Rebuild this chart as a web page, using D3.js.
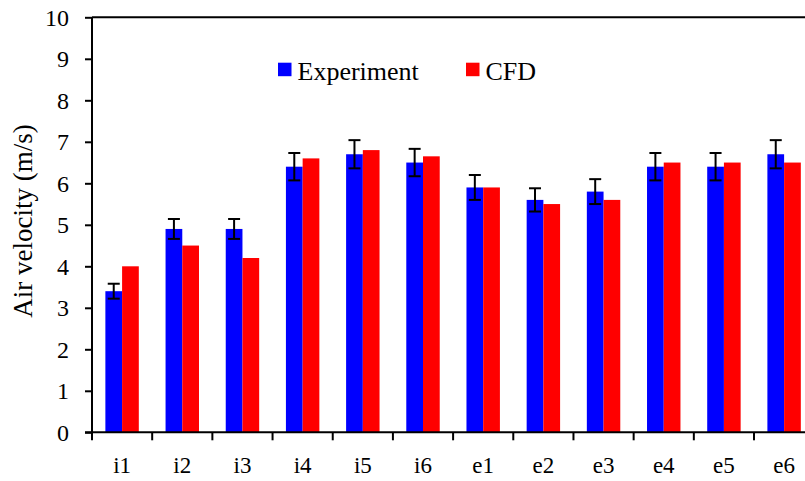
<!DOCTYPE html>
<html>
<head>
<meta charset="utf-8">
<script src="https://cdn.jsdelivr.net/npm/d3@7"></script>
<style>
  html, body { margin: 0; padding: 0; background: #fff; }
  svg { display: block; }
  text { font-family: "Liberation Serif", "Times New Roman", serif; fill: #000; }
</style>
</head>
<body>
<svg id="chart" width="805" height="481"></svg>
<script>
const categories = ["i1","i2","i3","i4","i5","i6","e1","e2","e3","e4","e5","e6"];
const seriesNames = ["Experiment","CFD"];
const experiment = [3.4, 4.9, 4.9, 6.4, 6.7, 6.5, 5.9, 5.6, 5.8, 6.4, 6.4, 6.7];
const experimentErr = [0.18, 0.24, 0.24, 0.33, 0.34, 0.33, 0.3, 0.28, 0.3, 0.33, 0.33, 0.34];
const cfd = [4.0, 4.5, 4.2, 6.6, 6.8, 6.65, 5.9, 5.5, 5.6, 6.5, 6.5, 6.5];
const yTicks = [0,1,2,3,4,5,6,7,8,9,10];
const colors = {"Experiment": "#0000ff", "CFD": "#ff0000"};

const svg = d3.select("#chart");
const mLeft = 92, mRight = 814.2, mTop = 17.3, mBottom = 432.3;

const x = d3.scaleBand().domain(categories).range([mLeft, mRight]).paddingInner(0).paddingOuter(0);
const x1 = d3.scaleBand().domain(seriesNames).range([0, x.bandwidth()]).paddingInner(0).paddingOuter(0.8);
const y = d3.scaleLinear().domain([0, 10]).range([mBottom, mTop]);

const rows = categories.map((c, i) => ({
  cat: c,
  vals: [
    {s: "Experiment", v: experiment[i], e: experimentErr[i]},
    {s: "CFD", v: cfd[i], e: null}
  ]
}));

// bars
const g = svg.append("g");
const groups = g.selectAll("g.grp").data(rows).enter().append("g")
  .attr("transform", d => `translate(${x(d.cat)},0)`);
groups.selectAll("rect").data(d => d.vals).enter().append("rect")
  .attr("x", d => x1(d.s))
  .attr("y", d => y(d.v))
  .attr("width", x1.bandwidth())
  .attr("height", d => y(0) - y(d.v))
  .attr("fill", d => colors[d.s]);

// error bars
const eb = groups.selectAll("g.err").data(d => d.vals.filter(v => v.e != null)).enter().append("g")
  .attr("stroke", "#000").attr("stroke-width", 2);
eb.append("line")
  .attr("x1", d => x1(d.s) + x1.bandwidth()/2).attr("x2", d => x1(d.s) + x1.bandwidth()/2)
  .attr("y1", d => y(d.v + d.e)).attr("y2", d => y(d.v - d.e));
eb.append("line")
  .attr("x1", d => x1(d.s) + x1.bandwidth()/2 - 6).attr("x2", d => x1(d.s) + x1.bandwidth()/2 + 6)
  .attr("y1", d => y(d.v + d.e)).attr("y2", d => y(d.v + d.e));
eb.append("line")
  .attr("x1", d => x1(d.s) + x1.bandwidth()/2 - 6).attr("x2", d => x1(d.s) + x1.bandwidth()/2 + 6)
  .attr("y1", d => y(d.v - d.e)).attr("y2", d => y(d.v - d.e));

// frame top / right
svg.append("line").attr("x1", mLeft).attr("x2", mRight).attr("y1", mTop).attr("y2", mTop)
  .attr("stroke", "#000").attr("stroke-width", 2);
svg.append("line").attr("x1", mRight).attr("x2", mRight).attr("y1", mTop).attr("y2", mBottom)
  .attr("stroke", "#000").attr("stroke-width", 2);

// y axis
const yAxis = d3.axisLeft(y).tickValues(yTicks).tickSize(7).tickPadding(16).tickFormat(d3.format("d"));
const ya = svg.append("g").attr("transform", `translate(${mLeft},0)`).call(yAxis);
ya.select(".domain").attr("stroke-width", 2).attr("d", `M0,${mTop}V${mBottom}`);
ya.selectAll(".tick line").attr("stroke-width", 2);
ya.selectAll(".tick text").style("font-family", '"Liberation Serif", serif').style("font-size", "24px").attr("dy", "0.33em");

// x axis
const xa = svg.append("g").attr("transform", `translate(0,${mBottom})`);
xa.append("line").attr("x1", mLeft - 7).attr("x2", mRight).attr("y1", 0).attr("y2", 0)
  .attr("stroke", "#000").attr("stroke-width", 2);
const boundaries = categories.map(c => x(c)).concat([mRight]);
xa.selectAll("line.tk").data(boundaries).enter().append("line")
  .attr("class", "tk")
  .attr("x1", d => d).attr("x2", d => d).attr("y1", 0).attr("y2", 8)
  .attr("stroke", "#000").attr("stroke-width", 2);
xa.selectAll("text.lbl").data(categories).enter().append("text")
  .attr("class", "lbl")
  .attr("x", d => x(d) + x.bandwidth()/2)
  .attr("y", 41)
  .attr("text-anchor", "middle")
  .style("font-size", "23px")
  .text(d => d);

// y title
svg.append("text")
  .attr("transform", "translate(32,221) rotate(-90)")
  .attr("text-anchor", "middle")
  .style("font-size", "27px")
  .text("Air velocity (m/s)");

// legend
const legendX = [278, 466];
const lg = svg.selectAll("g.leg").data(seriesNames).enter().append("g")
  .attr("class", "leg")
  .attr("transform", (d, i) => `translate(${legendX[i]},62.7)`);
lg.append("rect").attr("width", 13.5).attr("height", 13.5).attr("fill", d => colors[d]);
lg.append("text").attr("x", 19.5).attr("y", 17.5).style("font-size", "26px").text(d => d);
</script>
</body>
</html>
